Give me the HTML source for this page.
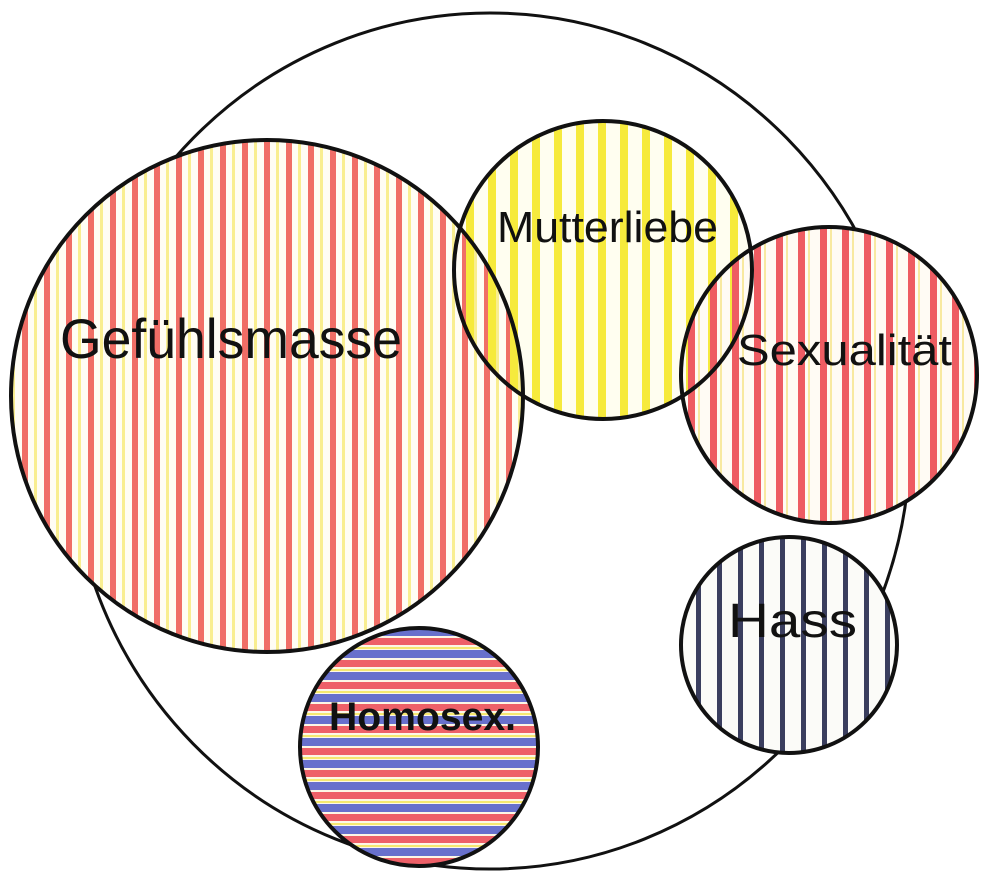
<!DOCTYPE html>
<html><head><meta charset="utf-8">
<style>
html,body{margin:0;padding:0;background:#fff;}
svg{display:block;}
text{font-family:"Liberation Sans",sans-serif;fill:#111;}
</style></head>
<body>
<svg width="988" height="880" viewBox="0 0 988 880">
<defs>
<pattern id="redStripes" patternUnits="userSpaceOnUse" width="22" height="22">
<rect width="22" height="22" fill="#fffdf4"/>
<rect x="0" width="6" height="22" fill="#f06e66"/>
<rect x="12" width="3" height="22" fill="#f9ee90"/>
</pattern>
<pattern id="yellowStripes" patternUnits="userSpaceOnUse" width="22" height="22">
<rect x="4" width="8" height="22" fill="#f6ea3c"/>
</pattern>
<pattern id="sexStripes" patternUnits="userSpaceOnUse" width="22" height="22">
<rect x="6" width="7" height="22" fill="#ee5c62"/>
<rect x="16" width="2" height="22" fill="#f8e9a0"/>
</pattern>
<pattern id="darkStripes" patternUnits="userSpaceOnUse" width="21" height="21">
<rect width="21" height="21" fill="#fbfbf8"/>
<rect x="3" width="5" height="21" fill="#3a3e5e"/>
</pattern>
<pattern id="homoStripes" patternUnits="userSpaceOnUse" width="22" height="22">
<rect width="22" height="22" fill="#fdf7e6"/>
<rect y="0" width="22" height="7" fill="#ee6068"/>
<rect y="9" width="22" height="2" fill="#f6e870"/>
<rect y="12" width="22" height="8" fill="#6870cc"/>
</pattern>
</defs>

<ellipse cx="490" cy="441" rx="420" ry="428" fill="#fff" stroke="#111" stroke-width="3"/>

<g id="circles"></g>
</svg>
<script>
const labels = ["Gefühlsmasse","Mutterliebe","Sexualität","Hass","Homosex."];
const names = ["gefuehlsmasse-circle","mutterliebe-circle","sexualitaet-circle","hass-circle","homosex-circle"];
const geo = [
 {cx:267,cy:396,r:256,fill:"url(#redStripes)",bg:"#fffdf4",tx:60,ty:358,fs:56,tl:342,bold:false},
 {cx:603,cy:270,r:149,fill:"url(#yellowStripes)",bg:"#fffef0",tx:497,ty:242,fs:44,tl:221,bold:false},
 {cx:829,cy:375,r:148,fill:"url(#sexStripes)",bg:"#fffbf4",tx:737,ty:365,fs:44,tl:215,bold:false},
 {cx:789,cy:645,r:108,fill:"url(#darkStripes)",bg:"#fbfbf8",tx:728,ty:637,fs:48,tl:129,bold:false},
 {cx:419,cy:747,r:119,fill:"url(#homoStripes)",bg:"#fdf7e6",tx:329,ty:730,fs:40,tl:187,bold:true}
];
const NS="http://www.w3.org/2000/svg";
const g=document.getElementById("circles");
function mk(c,fill,stroke){
 const el=document.createElementNS(NS,"circle");
 el.setAttribute("cx",c.cx);el.setAttribute("cy",c.cy);el.setAttribute("r",c.r);
 el.setAttribute("fill",fill);
 if(stroke){el.setAttribute("stroke","#111");el.setAttribute("stroke-width","4");}
 return el;
}
// backgrounds
geo.forEach((c,i)=>{
 const el=mk(c,c.bg,false);
 
 
 g.appendChild(el);
});
// Gefühlsmasse background over Mutterliebe background (overlap shows both)
const gb=mk(geo[0],geo[0].bg,false);


g.appendChild(gb);
// stripe layers
geo.forEach((c,i)=>{
 const el=mk(c,c.fill,false);
 
 
 g.appendChild(el);
});
// outlines
geo.forEach((c,i)=>{
 const el=mk(c,"none",true);
 
 
 g.appendChild(el);
});
geo.forEach((c,i)=>{
 const t=document.createElementNS(NS,"text");
 t.setAttribute("x",c.tx);t.setAttribute("y",c.ty);
 t.setAttribute("font-size",c.fs);
 t.setAttribute("textLength",c.tl);
 t.setAttribute("lengthAdjust","spacingAndGlyphs");
 if(c.bold) t.setAttribute("font-weight","bold");
 t.textContent=labels[i];
 
 
 g.appendChild(t);
});
</script>
</body></html>
